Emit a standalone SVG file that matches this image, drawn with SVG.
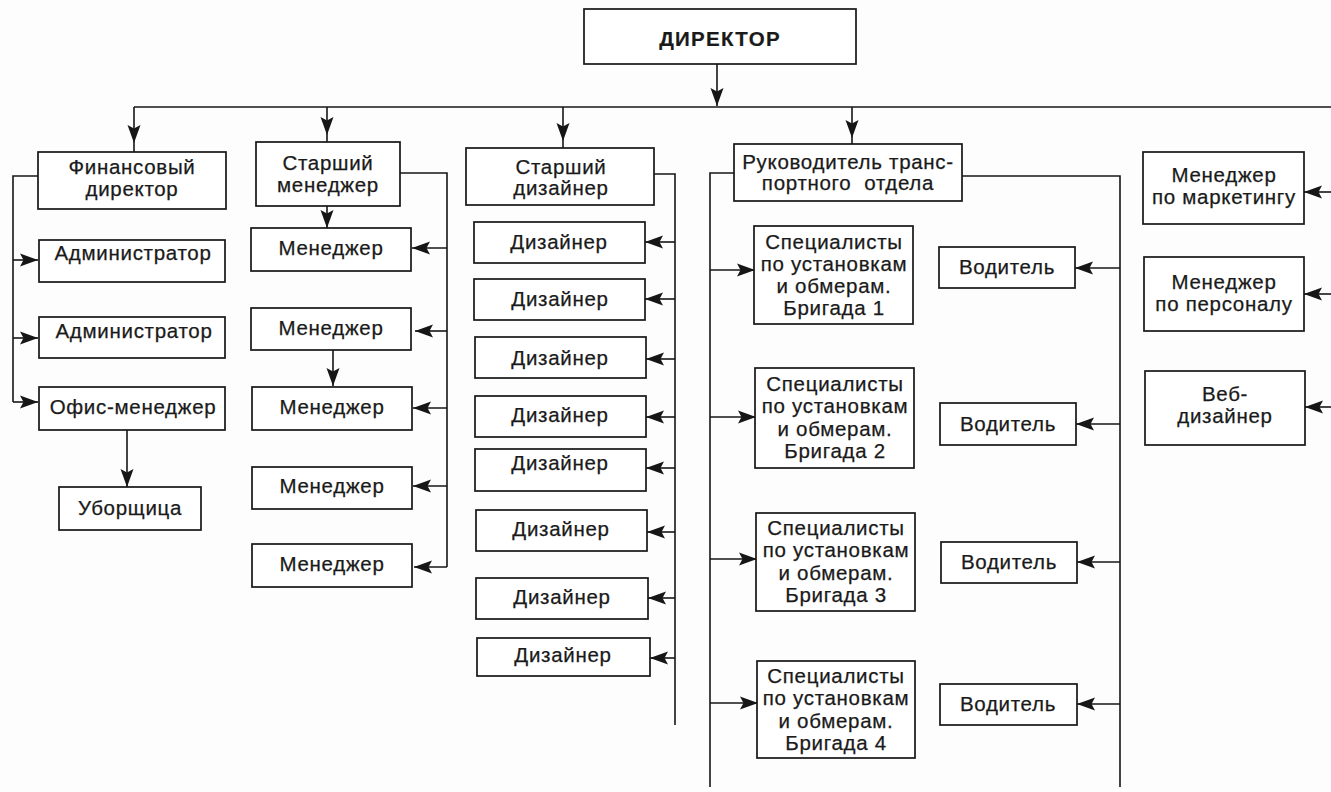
<svg xmlns="http://www.w3.org/2000/svg" width="1331" height="792" viewBox="0 0 1331 792">
  <style>
    .box { fill: #ffffff; stroke: #161616; stroke-width: 1.7; }
    .t { font-family: "Liberation Sans", Arial, sans-serif; font-size: 20.5px; letter-spacing: 0.7px; fill: #1a1a1a; stroke: #1a1a1a; stroke-width: 0.25px; text-anchor: middle; }
    .b { font-weight: bold; letter-spacing: 1.3px; stroke-width: 0.2px; }
    .ln { fill: none; stroke: #161616; stroke-width: 1.6; }
    .ae { marker-end: url(#arr); }
    .am { marker-mid: url(#arr); }
  </style>
  <defs>
    <marker id="arr" markerUnits="userSpaceOnUse" markerWidth="19" markerHeight="15" refX="18" refY="7" orient="auto" overflow="visible">
      <path d="M0,0.5 L18,7 L0,13.5 L3.5,7 z" fill="#161616"/>
    </marker>
  </defs>
  <rect width="1331" height="792" fill="#fdfdfd"/>

  <!-- connectors -->
  <g id="connectors">
    <!-- director to main bus -->
    <path class="ln ae" d="M717,64 V106"/>
    <path class="ln" d="M134,107 H1331"/>
    <!-- drops from bus -->
    <polyline class="ln am" points="134,107 134,143 134,152"/>
    <polyline class="ln am" points="327,107 327,135 327,142"/>
    <polyline class="ln am" points="563,107 563,141 563,148"/>
    <polyline class="ln am" points="852,107 852,138 852,144"/>

    <!-- finance director branch -->
    <path class="ln" d="M38,176 H13 V402"/>
    <path class="ln ae" d="M13,260 H38"/>
    <path class="ln ae" d="M13,338 H38"/>
    <path class="ln ae" d="M13,402 H38"/>
    <path class="ln ae" d="M127,430 V487"/>

    <!-- senior manager branch -->
    <path class="ln ae" d="M327,206 V228"/>
    <path class="ln ae" d="M333,350 V386"/>
    <path class="ln" d="M400,173 H447 V567"/>
    <path class="ln ae" d="M447,248 H412"/>
    <path class="ln ae" d="M447,331 H415"/>
    <path class="ln ae" d="M447,408 H413"/>
    <path class="ln ae" d="M447,486 H413"/>
    <path class="ln ae" d="M447,567 H414"/>

    <!-- senior designer branch -->
    <path class="ln" d="M654,174 H675 V725"/>
    <path class="ln ae" d="M675,242 H645"/>
    <path class="ln ae" d="M675,299 H645"/>
    <path class="ln ae" d="M675,359 H646"/>
    <path class="ln ae" d="M675,417 H646"/>
    <path class="ln ae" d="M675,468 H646"/>
    <path class="ln ae" d="M675,532 H647"/>
    <path class="ln ae" d="M675,598 H648"/>
    <path class="ln ae" d="M675,658 H650"/>

    <!-- transport department branch -->
    <path class="ln" d="M734,173 H710 V787"/>
    <path class="ln ae" d="M710,270 H755"/>
    <path class="ln ae" d="M710,417 H756"/>
    <path class="ln ae" d="M710,559 H757"/>
    <path class="ln ae" d="M710,703 H758"/>
    <path class="ln" d="M962,176 H1120 V787"/>
    <path class="ln ae" d="M1120,268 H1075"/>
    <path class="ln ae" d="M1120,424 H1076"/>
    <path class="ln ae" d="M1120,562 H1077"/>
    <path class="ln ae" d="M1120,704 H1077"/>

    <!-- right column -->
    <path class="ln ae" d="M1331,192 H1304"/>
    <path class="ln ae" d="M1331,294 H1304"/>
    <path class="ln ae" d="M1331,407 H1305"/>
  </g>

  <g id="director">
    <rect class="box" x="584" y="9" width="272" height="55"/>
    <text class="t b" x="720" y="46">ДИРЕКТОР</text>
  </g>

  <!-- finance -->
  <g id="fin-director">
    <rect class="box" x="38" y="152" width="188" height="57"/>
    <text class="t" x="132" y="174">Финансовый</text>
    <text class="t" x="132" y="196">директор</text>
  </g>
  <g id="admin-1">
    <rect class="box" x="39" y="240" width="186" height="42"/>
    <text class="t" x="133" y="260">Администратор</text>
  </g>
  <g id="admin-2">
    <rect class="box" x="39" y="317" width="186" height="41"/>
    <text class="t" x="134" y="338">Администратор</text>
  </g>
  <g id="office-manager">
    <rect class="box" x="39" y="387" width="186" height="43"/>
    <text class="t" x="133" y="414">Офис-менеджер</text>
  </g>
  <g id="cleaner">
    <rect class="box" x="59" y="487" width="142" height="43"/>
    <text class="t" x="130" y="515">Уборщица</text>
  </g>

  <!-- senior manager -->
  <g id="senior-manager">
    <rect class="box" x="256" y="142" width="144" height="64"/>
    <text class="t" x="328" y="170">Старший</text>
    <text class="t" x="328" y="192">менеджер</text>
  </g>
  <g id="manager-1">
    <rect class="box" x="251" y="228" width="160" height="43"/>
    <text class="t" x="331" y="255">Менеджер</text>
  </g>
  <g id="manager-2">
    <rect class="box" x="251" y="308" width="160" height="42"/>
    <text class="t" x="331" y="335">Менеджер</text>
  </g>
  <g id="manager-3">
    <rect class="box" x="252" y="387" width="160" height="43"/>
    <text class="t" x="332" y="414">Менеджер</text>
  </g>
  <g id="manager-4">
    <rect class="box" x="252" y="467" width="160" height="42"/>
    <text class="t" x="332" y="493">Менеджер</text>
  </g>
  <g id="manager-5">
    <rect class="box" x="252" y="544" width="160" height="43"/>
    <text class="t" x="332" y="571">Менеджер</text>
  </g>

  <!-- senior designer -->
  <g id="senior-designer">
    <rect class="box" x="466" y="148" width="188" height="57"/>
    <text class="t" x="561" y="174">Старший</text>
    <text class="t" x="561" y="195">дизайнер</text>
  </g>
  <g id="designer-1">
    <rect class="box" x="474" y="222" width="171" height="41"/>
    <text class="t" x="559" y="249">Дизайнер</text>
  </g>
  <g id="designer-2">
    <rect class="box" x="474" y="279" width="171" height="41"/>
    <text class="t" x="560" y="306">Дизайнер</text>
  </g>
  <g id="designer-3">
    <rect class="box" x="475" y="337" width="171" height="41"/>
    <text class="t" x="560" y="365">Дизайнер</text>
  </g>
  <g id="designer-4">
    <rect class="box" x="475" y="396" width="171" height="41"/>
    <text class="t" x="560" y="422">Дизайнер</text>
  </g>
  <g id="designer-5">
    <rect class="box" x="475" y="449" width="171" height="42"/>
    <text class="t" x="560" y="470">Дизайнер</text>
  </g>
  <g id="designer-6">
    <rect class="box" x="476" y="510" width="171" height="41"/>
    <text class="t" x="561" y="536">Дизайнер</text>
  </g>
  <g id="designer-7">
    <rect class="box" x="476" y="578" width="172" height="41"/>
    <text class="t" x="562" y="604">Дизайнер</text>
  </g>
  <g id="designer-8">
    <rect class="box" x="477" y="638" width="173" height="38"/>
    <text class="t" x="563" y="662">Дизайнер</text>
  </g>

  <!-- transport department -->
  <g id="transport-head">
    <rect class="box" x="734" y="144" width="228" height="57"/>
    <text class="t" x="848" y="169">Руководитель транс-</text>
    <text class="t" x="848" y="190" xml:space="preserve">портного  отдела</text>
  </g>
  <g id="team-1">
    <rect class="box" x="754" y="226" width="159" height="98"/>
    <text class="t" x="834" y="249">Специалисты</text>
    <text class="t" x="834" y="271">по установкам</text>
    <text class="t" x="834" y="293">и обмерам.</text>
    <text class="t" x="834" y="315">Бригада 1</text>
  </g>
  <g id="team-2">
    <rect class="box" x="755" y="368" width="159" height="100"/>
    <text class="t" x="835" y="391">Специалисты</text>
    <text class="t" x="835" y="413">по установкам</text>
    <text class="t" x="835" y="436">и обмерам.</text>
    <text class="t" x="835" y="458">Бригада 2</text>
  </g>
  <g id="team-3">
    <rect class="box" x="756" y="513" width="159" height="98"/>
    <text class="t" x="836" y="535">Специалисты</text>
    <text class="t" x="836" y="557">по установкам</text>
    <text class="t" x="836" y="580">и обмерам.</text>
    <text class="t" x="836" y="602">Бригада 3</text>
  </g>
  <g id="team-4">
    <rect class="box" x="757" y="661" width="158" height="97"/>
    <text class="t" x="836" y="683">Специалисты</text>
    <text class="t" x="836" y="705">по установкам</text>
    <text class="t" x="836" y="728">и обмерам.</text>
    <text class="t" x="836" y="750">Бригада 4</text>
  </g>
  <g id="driver-1">
    <rect class="box" x="939" y="247" width="136" height="41"/>
    <text class="t" x="1007" y="274">Водитель</text>
  </g>
  <g id="driver-2">
    <rect class="box" x="940" y="403" width="136" height="42"/>
    <text class="t" x="1008" y="431">Водитель</text>
  </g>
  <g id="driver-3">
    <rect class="box" x="941" y="542" width="136" height="41"/>
    <text class="t" x="1009" y="569">Водитель</text>
  </g>
  <g id="driver-4">
    <rect class="box" x="940" y="684" width="137" height="41"/>
    <text class="t" x="1008" y="711">Водитель</text>
  </g>

  <!-- staff reporting directly -->
  <g id="marketing-manager">
    <rect class="box" x="1143" y="152" width="161" height="72"/>
    <text class="t" x="1224" y="182">Менеджер</text>
    <text class="t" x="1224" y="204">по маркетингу</text>
  </g>
  <g id="hr-manager">
    <rect class="box" x="1144" y="257" width="160" height="74"/>
    <text class="t" x="1224" y="289">Менеджер</text>
    <text class="t" x="1224" y="311">по персоналу</text>
  </g>
  <g id="web-designer">
    <rect class="box" x="1145" y="371" width="160" height="74"/>
    <text class="t" x="1225" y="401">Веб-</text>
    <text class="t" x="1225" y="423">дизайнер</text>
  </g>
</svg>
